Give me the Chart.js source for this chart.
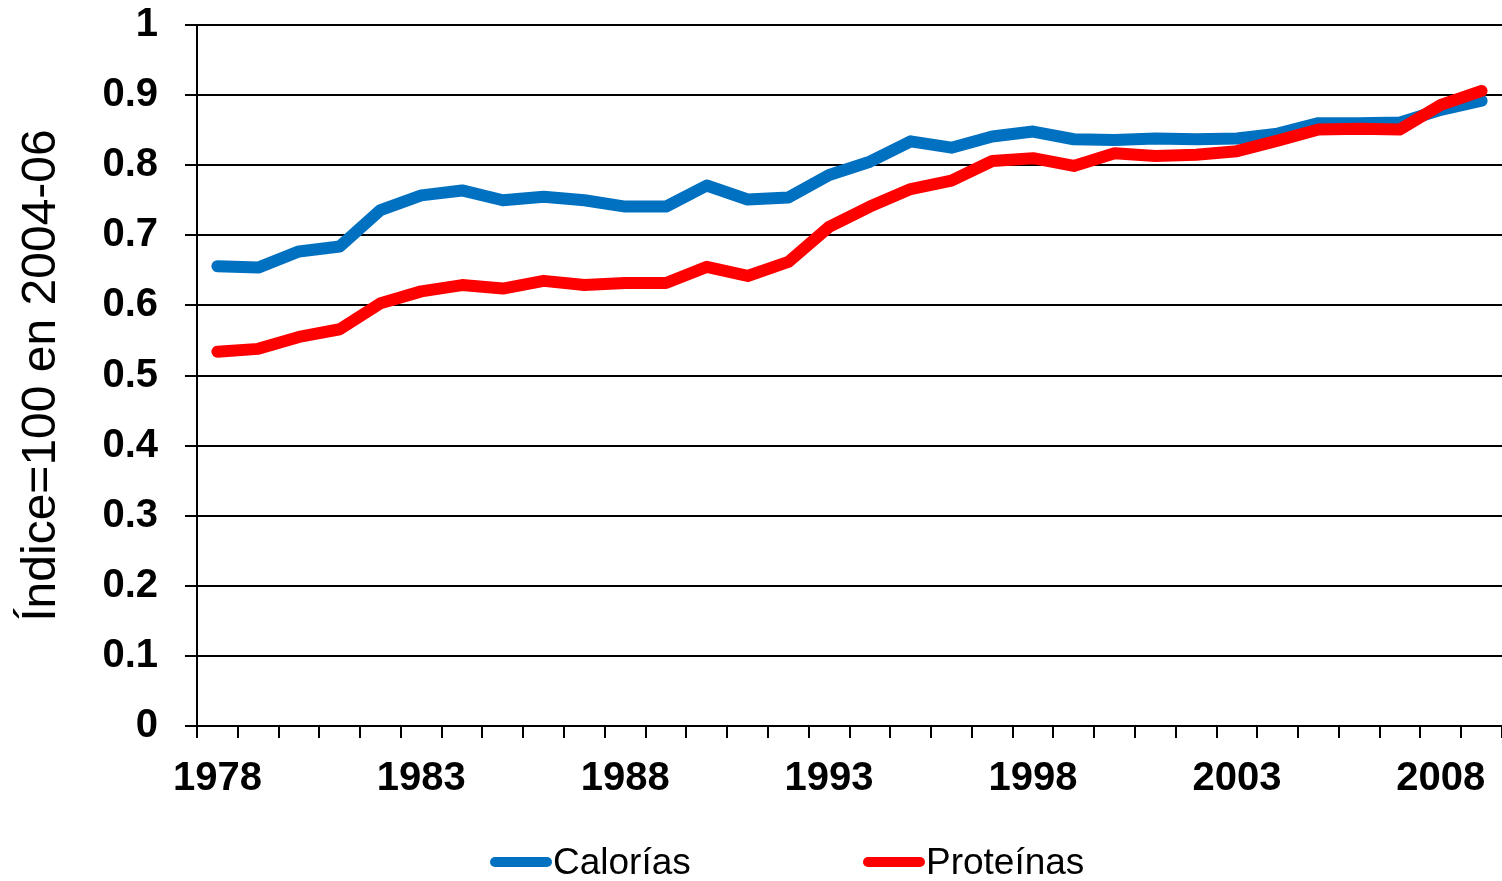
<!DOCTYPE html>
<html>
<head>
<meta charset="utf-8">
<script src="https://cdn.jsdelivr.net/npm/chart.js@4/dist/chart.umd.min.js"></script>
<style>
  html, body { margin: 0; padding: 0; background: #fff; }
  #wrap { position: relative; width: 1502px; height: 881px; }
  #legend { position: absolute; left: 0; top: 840px; width: 1502px; height: 44px;
            font-family: "Liberation Sans", Arial, sans-serif; font-size: 37px; color: #000; }
  .item { position: absolute; top: 0; height: 44px; line-height: 44px; white-space: nowrap; }
  .swatch { position: absolute; top: 17px; height: 10px; width: 62px; border-radius: 5px; }
  .txt { position: absolute; left: 63px; top: 0; }
</style>
</head>
<body>
<div id="wrap">
  <canvas id="chart" width="1502" height="881"></canvas>
  <div id="legend"></div>
</div>
<script>
// Years on the category axis
const years = ["1978","1979","1980","1981","1982","1983","1984","1985","1986","1987",
  "1988","1989","1990","1991","1992","1993","1994","1995","1996","1997",
  "1998","1999","2000","2001","2002","2003","2004","2005","2006","2007",
  "2008","2009"];

// Calorías
const calorias = [0.656, 0.654, 0.677, 0.684, 0.736, 0.757, 0.764, 0.750, 0.755, 0.750,
  0.741, 0.741, 0.771, 0.751, 0.754, 0.786, 0.805, 0.834, 0.825, 0.841,
  0.848, 0.837, 0.836, 0.838, 0.837, 0.838, 0.845, 0.860, 0.860, 0.861,
  0.879, 0.892];

// Proteínas
const proteinas = [0.534, 0.538, 0.555, 0.566, 0.603, 0.620, 0.629, 0.624, 0.635, 0.629,
  0.632, 0.632, 0.655, 0.642, 0.662, 0.712, 0.741, 0.766, 0.778, 0.806,
  0.810, 0.799, 0.817, 0.813, 0.815, 0.820, 0.835, 0.851, 0.852, 0.851,
  0.886, 0.906];

const seriesNames = ["Calorías", "Proteínas"];
const seriesColors = ["#0070C0", "#FF0000"];
const yTitle = "Índice=100 en 2004-06";

const FONT = "'Liberation Sans', Arial, sans-serif";

const ctx = document.getElementById('chart').getContext('2d');
new Chart(ctx, {
  type: 'line',
  data: {
    labels: years,
    datasets: [
      {
        label: seriesNames[0],
        data: calorias,
        borderColor: seriesColors[0],
        borderWidth: 12,
        borderCapStyle: 'round',
        borderJoinStyle: 'round',
        pointRadius: 0,
        tension: 0,
        fill: false,
        order: 1
      },
      {
        label: seriesNames[1],
        data: proteinas,
        borderColor: seriesColors[1],
        borderWidth: 12,
        borderCapStyle: 'round',
        borderJoinStyle: 'round',
        pointRadius: 0,
        tension: 0,
        fill: false,
        order: 0
      }
    ]
  },
  options: {
    responsive: false,
    animation: false,
    layout: { padding: { top: 25, right: 0, bottom: 0, left: 0 } },
    plugins: {
      legend: { display: false },
      tooltip: { enabled: false }
    },
    scales: {
      x: {
        offset: true,
        grid: {
          offset: true,
          drawOnChartArea: false,
          drawTicks: true,
          tickLength: 12,
          color: '#000',
          lineWidth: 2
        },
        border: { display: true, color: '#000', width: 2 },
        ticks: {
          autoSkip: false,
          maxRotation: 0,
          minRotation: 0,
          padding: 17,
          color: '#000',
          font: { family: FONT, size: 40, weight: 'bold' },
          callback: function (value, index) {
            return (index % 5 === 0) ? years[index] : '';
          }
        },
        afterFit: function (scale) { scale.height = 155; }
      },
      y: {
        min: 0,
        max: 1,
        grid: {
          color: '#000',
          lineWidth: 2,
          drawTicks: true,
          tickLength: 12
        },
        border: { display: true, color: '#000', width: 2 },
        ticks: {
          stepSize: 0.1,
          padding: 27,
          color: '#000',
          font: { family: FONT, size: 40, weight: 'bold' },
          callback: function (value) { return String(Number(value.toFixed(1))); }
        },
        title: {
          display: true,
          text: yTitle,
          color: '#000',
          font: { family: FONT, size: 48, weight: 'normal' },
          padding: { top: 13, bottom: 0 }
        },
        afterFit: function (scale) {
          scale.width = 197;
          scale.paddingTop = 0;
          scale.paddingBottom = 0;
        }
      }
    }
  }
});

// Legend below the plot
const legend = document.getElementById('legend');
const legendLeft = [490, 863];
seriesNames.forEach((name, i) => {
  const item = document.createElement('div');
  item.className = 'item';
  item.style.left = legendLeft[i] + 'px';
  item.innerHTML = `<span class="swatch" style="background:${seriesColors[i]}"></span><span class="txt">${name}</span>`;
  legend.appendChild(item);
});
</script>
</body>
</html>
